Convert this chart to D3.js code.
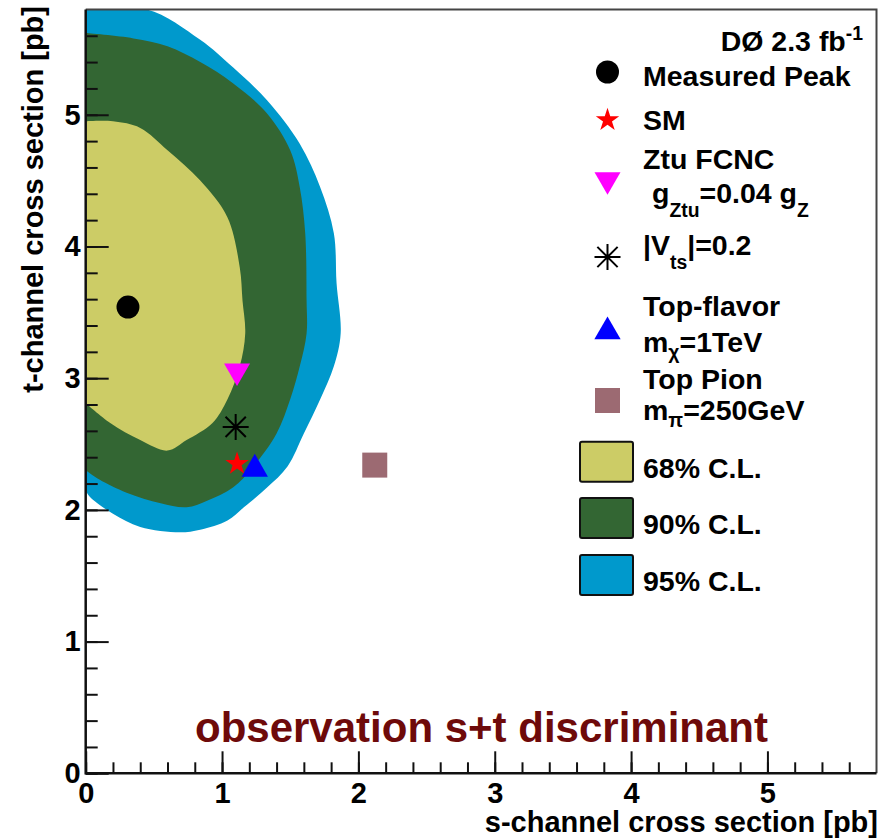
<!DOCTYPE html>
<html>
<head>
<meta charset="utf-8">
<script src="https://cdn.jsdelivr.net/npm/d3@7"></script>
<style>
  body { margin: 0; background: #fff; }
  text { font-family: "Liberation Sans", Arial, Helvetica, sans-serif; font-weight: bold; }
</style>
</head>
<body>
<script>
// confidence contours, [s-channel, t-channel] in pb
const cl68 = [
  [0, 4.95], [0.2, 4.95], [0.4, 4.9], [0.6, 4.73], [0.84, 4.5], [1.04, 4.22],
  [1.13, 3.84], [1.15, 3.59], [1.17, 3.34], [1.13, 3.09], [1.04, 2.84],
  [0.93, 2.66], [0.74, 2.53], [0.6, 2.45], [0.4, 2.53], [0.18, 2.66], [0, 2.81]
];
const cl90 = [
  [0, 5.62], [0.35, 5.58], [0.6, 5.52], [0.84, 5.4], [1.08, 5.24], [1.33, 5.01],
  [1.5, 4.73], [1.57, 4.45], [1.61, 4.1], [1.62, 3.59], [1.62, 3.34], [1.57, 3.09],
  [1.5, 2.84], [1.4, 2.58], [1.23, 2.33], [1.08, 2.17], [0.89, 2.07], [0.74, 2.02],
  [0.55, 2.05], [0.3, 2.13], [0.1, 2.23], [0, 2.3]
];
const cl95 = [
  [0, 5.8], [0.45, 5.8], [0.84, 5.57], [1.08, 5.36], [1.33, 5.11], [1.57, 4.78],
  [1.72, 4.45], [1.82, 4.1], [1.84, 3.72], [1.87, 3.34], [1.82, 3.09], [1.72, 2.84],
  [1.6, 2.58], [1.48, 2.33], [1.33, 2.17], [1.16, 2.02], [1.04, 1.92], [0.84, 1.85],
  [0.69, 1.83], [0.4, 1.87], [0.2, 1.97], [0.03, 2.1], [0, 2.15]
];
const clLabels = ["68% C.L.", "90% C.L.", "95% C.L."];
const clColors = ["#cccc66", "#336633", "#0099cc"];

// model points
const pointNames = ["Measured Peak", "SM", "Ztu FCNC", "Vts", "Top-flavor", "Top Pion"];
const pointS = [0.31, 1.11, 1.11, 1.10, 1.24, 2.12];
const pointT = [3.54, 2.35, 3.055, 2.63, 2.31, 2.34];
const pointColors = ["#000000", "#ff0000", "#ff00ff", "#000000", "#0000ff", "#9c6a72"];

const xTicks = [0, 1, 2, 3, 4, 5];
const yTicks = [0, 1, 2, 3, 4, 5];

const W = 885, H = 839;
const svg = d3.select("body").append("svg").attr("width", W).attr("height", H);

const x = d3.scaleLinear().domain([0, 5.8]).range([85.7, 876.5]);
const y = d3.scaleLinear().domain([0, 5.8]).range([773.3, 9.4]);

// 8-armed asterisk like ROOT marker 3
const asterisk = {
  draw(ctx, size) {
    const r = Math.sqrt(size) / 2, d = r * 0.78;
    ctx.moveTo(-r, 0); ctx.lineTo(r, 0);
    ctx.moveTo(0, -r); ctx.lineTo(0, r);
    ctx.moveTo(-d, -d); ctx.lineTo(d, d);
    ctx.moveTo(-d, d); ctx.lineTo(d, -d);
  }
};
// d3.symbolTriangle turned upside down
const triDown = {
  draw(ctx, size) {
    const yy = -Math.sqrt(size / (Math.sqrt(3) * 3));
    ctx.moveTo(0, -2 * yy);
    ctx.lineTo(-Math.sqrt(3) * yy, yy);
    ctx.lineTo(Math.sqrt(3) * yy, yy);
    ctx.closePath();
  }
};
const symTypes = [d3.symbolCircle, d3.symbolStar, triDown, asterisk, d3.symbolTriangle, d3.symbolSquare];
const symSizes = [415, 170, 292, 676, 300, 625];

svg.append("clipPath").attr("id", "plotclip").append("rect")
  .attr("x", x(0)).attr("y", y(5.8))
  .attr("width", x(5.8) - x(0)).attr("height", y(0) - y(5.8));

const contourLine = d3.line().x(d => x(d[0])).y(d => y(d[1])).curve(d3.curveCatmullRom);
const contours = [cl68, cl90, cl95];
const cg = svg.append("g").attr("clip-path", "url(#plotclip)");
[2, 1, 0].forEach(i => {
  cg.append("path")
    .attr("d", contourLine(contours[i]) + "Z")
    .attr("fill", clColors[i]);
});

// markers
const markG = svg.append("g");
pointNames.forEach((n, i) => {
  const isStroke = symTypes[i] === asterisk;
  markG.append("path")
    .attr("d", d3.symbol(symTypes[i], symSizes[i])())
    .attr("transform", `translate(${x(pointS[i])},${y(pointT[i])})`)
    .attr("fill", isStroke ? "none" : pointColors[i])
    .attr("stroke", isStroke ? pointColors[i] : "none")
    .attr("stroke-width", 2);
});

// frame
svg.append("path")
  .attr("d", `M${x(0)},${y(5.8)}H${x(5.8)}V${y(0)}`)
  .attr("fill", "none").attr("stroke", "#444").attr("stroke-width", 2);

// axes with inward ticks
const minorX = d3.range(0, 5.79, 0.2);
const minorY = d3.range(0, 5.79, 0.2);

const xMinor = svg.append("g").attr("transform", `translate(0,${y(0)})`)
  .call(d3.axisBottom(x).tickValues(minorX).tickSize(-11).tickFormat(""));
const xMajor = svg.append("g").attr("transform", `translate(0,${y(0)})`)
  .call(d3.axisBottom(x).tickValues(xTicks).tickSize(-22).tickPadding(9).tickFormat(d3.format("d")));
const yMinor = svg.append("g").attr("transform", `translate(${x(0)},0)`)
  .call(d3.axisLeft(y).tickValues(minorY).tickSize(-12).tickFormat(""));
const yMajor = svg.append("g").attr("transform", `translate(${x(0)},0)`)
  .call(d3.axisLeft(y).tickValues(yTicks).tickSize(-23).tickPadding(5).tickFormat(d3.format("d")));

[xMinor, xMajor, yMinor, yMajor].forEach(g => {
  g.select(".domain").remove();
  g.selectAll(".tick line").attr("stroke", "#111").attr("stroke-width", 2);
  g.selectAll(".tick text").attr("fill", "#000")
    .style("font-family", '"Liberation Sans", Arial, sans-serif')
    .style("font-weight", "bold").style("font-size", "29px");
});

svg.append("path")
  .attr("d", `M${x(0)},${y(5.8)}V${y(0)}H${x(5.8)}`)
  .attr("fill", "none").attr("stroke", "#111").attr("stroke-width", 2.5);

// axis titles
svg.append("text")
  .attr("x", 878).attr("y", 832)
  .attr("text-anchor", "end").attr("font-size", 29)
  .text("s-channel cross section [pb]");
svg.append("text")
  .attr("transform", "translate(43,6) rotate(-90)")
  .attr("text-anchor", "end").attr("font-size", 29)
  .text("t-channel cross section [pb]");

svg.append("text")
  .attr("x", 481.5).attr("y", 742)
  .attr("text-anchor", "middle").attr("font-size", 42)
  .attr("fill", "#6e0a0a")
  .text("observation s+t discriminant");

// rich text helper: parts are [string, "", "sub" or "sup", shift]
const rich = (sel, parts, fs) => {
  let shift = 0;
  parts.forEach(([s, mode, off]) => {
    const target = mode === "sub" ? (off || 14) : mode === "sup" ? -11 : 0;
    sel.append("tspan")
      .attr("dy", target - shift)
      .attr("font-size", mode ? fs * 0.68 : fs)
      .text(s);
    shift = target;
  });
};

// legend
const fs = 28.5;
const legX = 643;
const lg = svg.append("g");

rich(lg.append("text").attr("x", 863).attr("y", 51).attr("text-anchor", "end"),
  [["DØ 2.3 fb", ""], ["-1", "sup"]], fs);

const legText = [
  [[legX, 86, [["Measured Peak", ""]]]],
  [[legX, 130, [["SM", ""]]]],
  [[legX, 169, [["Ztu FCNC", ""]]], [legX + 9, 203, [["g", ""], ["Ztu", "sub"], ["=0.04 g", ""], ["Z", "sub"]]]],
  [[legX, 255, [["|V", ""], ["ts", "sub"], ["|=0.2", ""]]]],
  [[legX, 316, [["Top-flavor", ""]]], [legX, 352, [["m", ""], ["χ", "sub", 7], ["=1TeV", ""]]]],
  [[legX, 389, [["Top Pion", ""]]], [legX, 420, [["m", ""], ["π", "sub", 7], ["=250GeV", ""]]]]
];
const legMarkY = [72, 120, 179.7, 257, 331.7, 400.5];

pointNames.forEach((n, i) => {
  const isStroke = symTypes[i] === asterisk;
  lg.append("path")
    .attr("d", d3.symbol(symTypes[i], symSizes[i])())
    .attr("transform", `translate(607.5,${legMarkY[i]})`)
    .attr("fill", isStroke ? "none" : pointColors[i])
    .attr("stroke", isStroke ? pointColors[i] : "none")
    .attr("stroke-width", 2);
  legText[i].forEach(([tx, ty, parts]) => {
    rich(lg.append("text").attr("x", tx).attr("y", ty), parts, fs);
  });
});

const clBoxY = [441.7, 498, 555];
const clTextY = [477.6, 533.6, 591];
clLabels.forEach((lab, i) => {
  lg.append("rect")
    .attr("x", 580).attr("y", clBoxY[i])
    .attr("width", 53).attr("height", 40)
    .attr("rx", 2)
    .attr("fill", clColors[i]).attr("stroke", "#111").attr("stroke-width", 2);
  lg.append("text").attr("x", legX).attr("y", clTextY[i])
    .attr("font-size", fs).text(lab);
});
</script>
</body>
</html>
